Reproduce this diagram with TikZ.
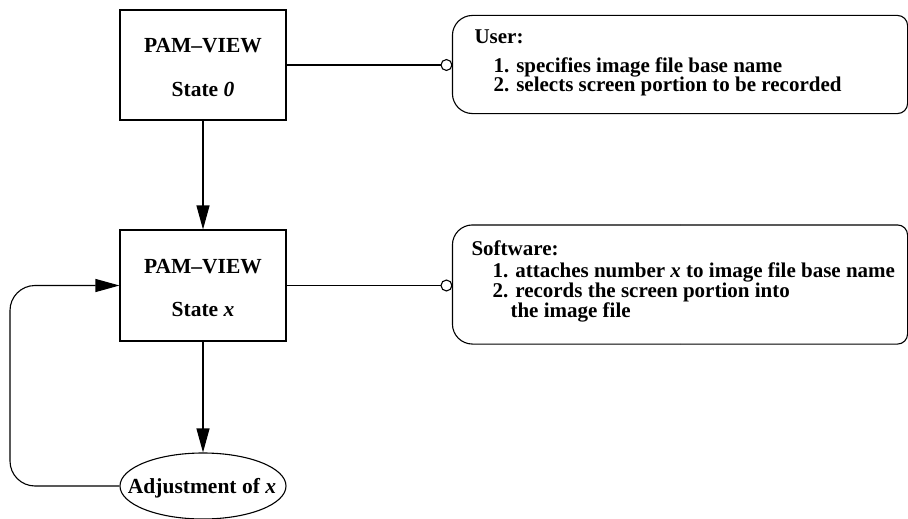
\documentclass[tikz,border=0pt]{standalone}
\usepackage{fontspec}
\setmainfont{Liberation Serif}
\usetikzlibrary{arrows.meta,shapes.geometric}
\begin{document}
\begin{tikzpicture}[x=1pt,y=-1pt,
  line width=1.1pt,
  statebox/.style={draw,minimum width=166pt,minimum height=110pt,inner sep=0pt},
  boxtext/.style={font=\fontsize{21.5}{24}\selectfont\bfseries,anchor=base,inner sep=0pt},
  listtext/.style={font=\fontsize{21}{24}\selectfont\bfseries,anchor=base west,inner sep=0pt},
  note/.style={minimum width=454pt,inner sep=0pt},
  flow/.style={-{Triangle[length=24pt,width=13pt]}},
  plug/.style={-{Circle[open,length=12pt,line width=1.1pt]}}]
\useasboundingbox (0,0) rectangle (908,519);

\node[statebox] (s0) at (203,65) {};
\node[boxtext] (s0a) at (203,53) {PAM–VIEW};
\node[boxtext] (s0b) at (203,96) {State \textit{0}};

\node[statebox,minimum height=111pt] (sx) at (203,285.5) {};
\node[boxtext] (sxa) at (203,273) {PAM–VIEW};
\node[boxtext] (sxb) at (203,316) {State \textit{x}};

\node[draw,ellipse,minimum width=166pt,minimum height=66pt,inner sep=0pt] (adj) at (203,486) {};
\node[boxtext] (adjt) at (202,493) {Adjustment of \textit{x}};

% note boxes
\node[note,minimum height=97pt] (user) at (680,64.5) {};
\draw[rounded corners=20pt] (user.north) -| (user.west) |- (user.south);
\draw[rounded corners=10pt] (user.south) -| (user.east) |- (user.north);
\node[listtext] (u0) at (474,44) {User:};
\node[listtext] (u1) at (493,73) {1. specifies image file base name};
\node[listtext] (u2) at (493,92) {2. selects screen portion to be recorded};

\node[note,minimum height=118pt] (soft) at (680,284.5) {};
\draw[rounded corners=20pt] (soft.north) -| (soft.west) |- (soft.south);
\draw[rounded corners=10pt] (soft.south) -| (soft.east) |- (soft.north);
\node[listtext] (w0) at (471,255) {Software:};
\node[listtext] (w1) at (492,277) {1. attaches number \textit{x} to image file base name};
\node[listtext] (w2) at (492,297) {2. records the screen portion into};
\node[listtext] (w3) at (510,317) {the image file};

% connectors
\draw[flow] (s0) -- (sx);
\draw[flow] (sx) -- (adj);
\draw[flow,rounded corners=25pt] (adj.west) -- (10,486) -- (10,285.5) -- (sx.west);
\draw[plug] (s0.east) -- (s0.east -| user.west);
\draw[plug] (sx.east) -- (sx.east -| soft.west);
\end{tikzpicture}
\end{document}
